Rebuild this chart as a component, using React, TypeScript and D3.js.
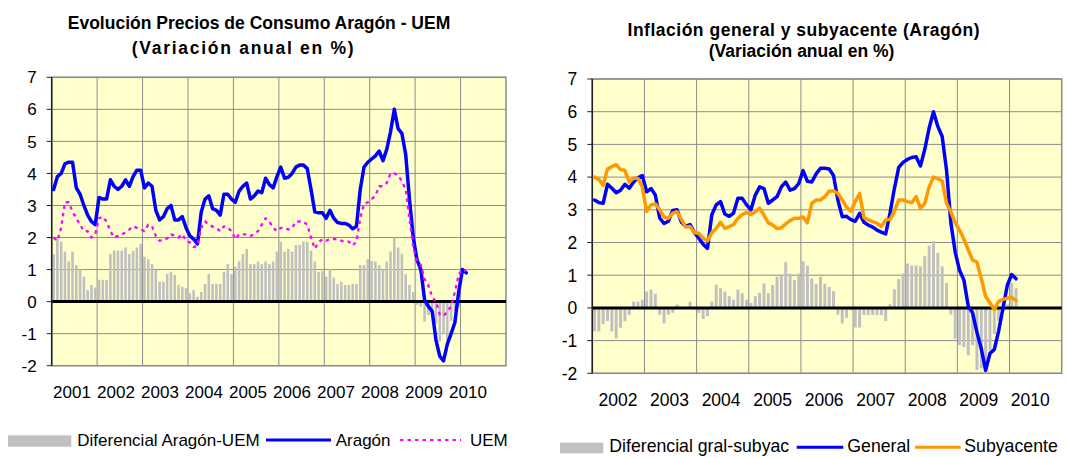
import React from 'react';
import * as d3 from 'd3';

// ---------- DATA ----------
const leftYears = ['2001', '2002', '2003', '2004', '2005', '2006', '2007', '2008', '2009', '2010'];
const rightYears = ['2002', '2003', '2004', '2005', '2006', '2007', '2008', '2009', '2010'];
const yTicks = [-2, -1, 0, 1, 2, 3, 4, 5, 6, 7];

// Monthly, Jan 2001 - Feb 2010
const aragon = [
  3.5, 3.9, 4.0, 4.3, 4.35, 4.35, 3.55, 3.35, 3.0, 2.7, 2.5, 2.4,
  3.25, 3.2, 3.2, 3.8, 3.6, 3.5, 3.6, 3.8, 3.6, 3.9, 4.1, 4.1,
  3.55, 3.7, 3.6, 2.85, 2.55, 2.65, 2.9, 3.0, 2.55, 2.55, 2.65, 2.3,
  2.05, 1.95, 1.8, 2.8, 3.2, 3.3, 2.9, 2.85, 2.7, 3.35, 3.35, 3.2,
  3.1, 3.45, 3.6, 3.7, 3.2, 3.3, 3.45, 3.4, 3.85, 3.65, 3.55, 3.9,
  4.2, 3.85, 3.88, 4.0, 4.2, 4.26, 4.26, 4.15, 3.5, 2.8, 2.77, 2.77,
  2.6, 2.85, 2.6, 2.47, 2.44, 2.44, 2.39, 2.27, 2.35, 3.5, 4.2, 4.35,
  4.45, 4.55, 4.7, 4.4, 4.75, 5.3, 6.0, 5.4, 5.25, 4.6, 3.2, 2.0,
  1.3, 1.0, 0.05, -0.15, -0.3, -1.2, -1.7, -1.85, -1.33, -1.0, -0.65, 0.3,
  1.0, 0.9,
];
const uem = [
  2.0, 1.9, 2.3, 3.1, 3.1, 2.8, 2.6, 2.4, 2.2, 2.2, 2.0, 2.1,
  2.6, 2.65, 2.5, 2.2, 2.0, 2.05, 2.1, 2.15, 2.25, 2.35, 2.3, 2.25,
  2.2, 2.4, 2.35, 2.05, 1.9, 1.92, 1.97, 2.1, 2.05, 2.0, 2.1, 1.9,
  1.85, 1.7, 1.75, 2.3, 2.5, 2.4, 2.34, 2.3, 2.2, 2.35, 2.3, 2.2,
  1.95, 2.1, 2.1, 2.1, 2.05, 2.1, 2.2, 2.4, 2.6, 2.5, 2.3, 2.2,
  2.3, 2.3, 2.25, 2.3, 2.5, 2.5, 2.5, 2.4, 2.0, 1.65, 1.85, 1.95,
  1.9, 1.95, 1.95, 1.95, 1.9, 1.87, 1.87, 1.75, 1.87, 2.6, 3.05, 3.1,
  3.2, 3.3, 3.6, 3.6, 3.7, 4.0, 4.0, 3.95, 3.75, 3.5, 2.6, 1.7,
  1.25, 1.15, 0.7, 0.5, 0.15, 0.0, -0.4, -0.45, -0.3, -0.15, 0.3, 0.85,
  1.0, 0.95,
];
const difAragonUem = [
  1.48, 1.97, 1.87, 1.56, 1.25, 1.56, 1.14, 1.0, 0.78, 0.36, 0.52, 0.44,
  0.68, 0.68, 0.68, 1.48, 1.59, 1.59, 1.59, 1.69, 1.48, 1.58, 1.69, 1.8,
  1.4, 1.32, 1.17, 0.98, 0.62, 0.62, 0.86, 0.93, 0.83, 0.52, 0.46, 0.42,
  0.26, 0.36, 0.15, 0.3, 0.55, 0.86, 0.55, 0.55, 0.55, 0.93, 1.17, 0.86,
  1.09, 1.25, 1.48, 1.64, 1.17, 1.17, 1.25, 1.17, 1.25, 1.17, 1.25, 1.56,
  1.87, 1.56, 1.64, 1.56, 1.77, 1.77, 1.87, 1.87, 1.59, 1.25, 0.93, 0.96,
  0.78, 1.01, 0.75, 0.55, 0.62, 0.52, 0.52, 0.55, 0.55, 1.14, 1.14, 1.32,
  1.27, 1.25, 1.14, 1.0, 1.25, 1.56, 2.0, 1.69, 1.5, 0.85, 0.52, 0.3,
  -0.1, -0.16, -0.62, -0.42, -0.37, -0.68, -1.25, -1.0, -1.25, -0.6, -0.3, -0.16,
  0.0, -0.05,
];

// Monthly, Jan 2002 - Feb 2010
const general = [
  3.3, 3.22, 3.2, 3.78, 3.66, 3.52, 3.6, 3.78, 3.66, 3.85, 3.98, 4.05,
  3.55, 3.65, 3.45, 2.75, 2.58, 2.65, 2.98, 3.0, 2.62, 2.5, 2.55, 2.3,
  2.13, 1.95, 1.82, 2.85, 3.15, 3.25, 2.87, 2.8, 2.9, 3.35, 3.35, 3.15,
  3.0, 3.45, 3.7, 3.65, 3.2, 3.3, 3.4, 3.7, 3.85, 3.6, 3.65, 3.8,
  4.2, 3.87, 3.85, 4.1, 4.27, 4.27, 4.25, 4.05, 3.3, 2.79, 2.8, 2.7,
  2.65, 2.89, 2.62, 2.53, 2.47, 2.38, 2.32, 2.26, 2.9, 3.65, 4.3, 4.45,
  4.54, 4.6, 4.62, 4.34, 4.85, 5.5, 6.0, 5.55, 5.24, 4.22, 2.6, 1.7,
  1.15, 0.85, 0.05, -0.15, -0.75, -1.25, -1.91, -1.39, -1.27, -0.7, 0.0, 0.7,
  1.02, 0.89,
];
const subyacente = [
  4.0, 3.93, 3.75, 4.25, 4.32, 4.38, 4.23, 4.2, 3.85, 3.97, 3.96, 3.7,
  2.95, 3.15, 3.18, 3.0, 2.78, 2.74, 2.9, 2.94, 2.7, 2.47, 2.49, 2.3,
  2.28, 2.13, 2.05, 2.3, 2.43, 2.62, 2.43, 2.49, 2.55, 2.74, 2.85, 2.92,
  2.86, 2.94, 3.05, 2.84, 2.6, 2.54, 2.42, 2.45, 2.57, 2.67, 2.74, 2.74,
  2.78, 2.6, 3.2, 3.3, 3.3, 3.4, 3.57, 3.58, 3.5, 3.3, 3.08, 2.96,
  3.25, 3.5, 2.76, 2.69, 2.64, 2.59, 2.49, 2.69, 2.7, 2.95, 3.3, 3.3,
  3.25, 3.22, 3.4, 3.05, 3.2, 3.7, 4.0, 3.95, 3.88, 3.2, 2.94, 2.6,
  2.38, 2.1, 1.77, 1.46, 1.4, 0.9, 0.35, 0.15, -0.05, 0.2, 0.26, 0.3,
  0.32, 0.22,
];
const difGralSubyac = [
  -0.72, -0.72, -0.5, -0.4, -0.72, -0.93, -0.61, -0.41, -0.21, 0.19, 0.19, 0.25,
  0.5, 0.56, 0.43, -0.21, -0.47, -0.21, -0.15, 0.1, 0.0, 0.0, 0.19, 0.0,
  -0.15, -0.34, -0.25, 0.19, 0.71, 0.6, 0.5, 0.36, 0.25, 0.56, 0.45, 0.25,
  0.15, 0.36, 0.46, 0.75, 0.45, 0.7, 0.95, 1.0, 1.4, 1.05, 0.85, 1.05,
  1.43, 1.29, 0.9, 0.73, 0.95, 0.74, 0.64, 0.51, -0.2, -0.48, -0.3, -0.07,
  -0.6, -0.6, -0.22, -0.22, -0.22, -0.22, -0.22, -0.4, 0.11, 0.57, 0.88, 1.05,
  1.36, 1.3, 1.3, 1.27, 1.58, 1.9, 2.04, 1.68, 1.27, 0.76, -0.2, -0.94,
  -1.14, -1.2, -1.45, -1.14, -1.9, -1.85, -2.0, -1.3, -0.8, -0.4, -0.1, 0.1,
  0.77, 0.6,
];

// ---------- STYLE ----------
const FONT = '"Liberation Sans", Arial, Helvetica, sans-serif';
const BG = '#FFFFCC';
const GRID = '#8c8c8c';
const BAR = '#C0C0C0';
const BLUE = '#0000FF';
const MAGENTA = '#FF00FF';
const ORANGE = '#FF9900';

type LineSpec = { values: number[]; color: string; width: number; dash?: string };

type PanelProps = {
  x0: number; x1: number; yTop: number; yBot: number;
  nCats: number;
  bars: number[];
  lines: LineSpec[];
  years: string[];
  labelRange: [number, number];
  labelY: number;
  fontSize: number;
  tickLabelGap: number;
};

function Panel(p: PanelProps) {
  const xb = d3.scaleBand<number>().domain(d3.range(p.nCats)).range([p.x0, p.x1]).paddingInner(0.32).paddingOuter(0.16);
  const xl = d3.scaleLinear().domain([0, p.nCats]).range([p.x0, p.x1]);
  const y = d3.scaleLinear().domain([-2, 7]).range([p.yBot, p.yTop]);
  const xLab = d3.scaleBand<string>().domain(p.years).range(p.labelRange);
  const boundaries = d3.range(12, p.nCats, 12);
  const cx = (i: number) => (xb(i) as number) + xb.bandwidth() / 2;

  return (
    <g>
      <rect x={p.x0} y={p.yTop} width={p.x1 - p.x0} height={p.yBot - p.yTop} fill={BG} />
      {yTicks.map((t) => (
        <line key={'h' + t} x1={p.x0} x2={p.x1} y1={y(t)} y2={y(t)} stroke={GRID} strokeWidth={1} />
      ))}
      {boundaries.map((b) => (
        <line key={'v' + b} x1={xl(b)} x2={xl(b)} y1={p.yTop} y2={p.yBot} stroke={GRID} strokeWidth={1} />
      ))}
      <rect x={p.x0} y={p.yTop} width={p.x1 - p.x0} height={p.yBot - p.yTop} fill="none" stroke={GRID} strokeWidth={1.5} />
      {p.bars.map((v, i) => (
        <rect key={'b' + i} x={xb(i)} width={xb.bandwidth()} y={Math.min(y(v), y(0))} height={Math.abs(y(v) - y(0))} fill={BAR} />
      ))}
      <line x1={p.x0} x2={p.x1} y1={y(0)} y2={y(0)} stroke="#000" strokeWidth={3} />
      <line x1={p.x0} x2={p.x0} y1={p.yTop} y2={p.yBot} stroke="#222" strokeWidth={1.5} />
      {yTicks.map((t) => (
        <g key={'t' + t}>
          <line x1={p.x0 - 5} x2={p.x0} y1={y(t)} y2={y(t)} stroke="#222" strokeWidth={1} />
          <text x={p.x0 - p.tickLabelGap} y={y(t)} dy="0.36em" textAnchor="end" fontSize={p.fontSize} fontFamily={FONT} fill="#000">
            {t}
          </text>
        </g>
      ))}
      {p.lines.map((l, k) => {
        const gen = d3.line<number>().x((_, i) => cx(i)).y((d) => y(d));
        return (
          <path key={'l' + k} d={gen(l.values) || ''} fill="none" stroke={l.color} strokeWidth={l.width}
            strokeDasharray={l.dash} strokeLinejoin="round" strokeLinecap={l.dash ? 'butt' : 'round'} />
        );
      })}
      {p.years.map((yr) => (
        <text key={yr} x={(xLab(yr) as number) + xLab.bandwidth() / 2} y={p.labelY} textAnchor="middle" fontSize={p.fontSize} fontFamily={FONT} fill="#000">
          {yr}
        </text>
      ))}
    </g>
  );
}

type TitleProps = { cx1: number; cx2: number; y1: number; y2: number; l1: string; l2: string; size: number; w1?: number; w2?: number };

function Title({ cx1, cx2, y1, y2, l1, l2, size, w1, w2 }: TitleProps) {
  return (
    <g fontFamily={FONT} fontWeight="bold" fontSize={size} fill="#000" textAnchor="middle">
      <text x={cx1} y={y1} textLength={w1} lengthAdjust={w1 ? 'spacing' : undefined}>{l1}</text>
      <text x={cx2} y={y2} textLength={w2} lengthAdjust={w2 ? 'spacing' : undefined}>{l2}</text>
    </g>
  );
}

export default function App() {
  return (
    <svg width={1070} height={458} style={{ position: 'absolute', left: 0, top: 0, background: '#fff' }}>
      <Title cx1={259} cx2={242.7} y1={29} y2={54} l1="Evolución Precios de Consumo Aragón - UEM" l2="(Variación anual en %)" size={17.5} w2={222} />
      <Title cx1={803.5} cx2={801.5} y1={36} y2={57} l1="Inflación general y subyacente (Aragón)" l2="(Variación anual en %)" size={17.5} w1={352} />

      <Panel x0={51.7} x1={506} yTop={77.3} yBot={365.7} nCats={120}
        bars={difAragonUem}
        lines={[
          { values: aragon, color: BLUE, width: 3.5 },
          { values: uem, color: MAGENTA, width: 2.3, dash: '3.5 4' },
        ]}
        years={leftYears} labelRange={[50, 490]} labelY={398} fontSize={17} tickLabelGap={15} />

      <Panel x0={592.3} x1={1061.7} yTop={79} yBot={373.3} nCats={108}
        bars={difGralSubyac}
        lines={[
          { values: general, color: BLUE, width: 3.5 },
          { values: subyacente, color: ORANGE, width: 3.5 },
        ]}
        years={rightYears} labelRange={[592.3, 1056]} labelY={406} fontSize={17.5} tickLabelGap={15} />

      {/* Legends */}
      <g fontFamily={FONT} fontSize={17} fill="#000">
        <rect x={8} y={435.3} width={63.3} height={11.4} fill={BAR} />
        <text x={77.3} y={446}>Diferencial Aragón-UEM</text>
        <line x1={266} x2={331} y1={440} y2={440} stroke={BLUE} strokeWidth={3} />
        <text x={335.7} y={446}>Aragón</text>
        <line x1={400} x2={461} y1={440} y2={440} stroke={MAGENTA} strokeWidth={2} strokeDasharray="3.5 4" />
        <text x={470} y={446}>UEM</text>
      </g>
      <g fontFamily={FONT} fontSize={17.7} fill="#000">
        <rect x={560} y={442.7} width={43.3} height={10.6} fill={BAR} />
        <text x={609.3} y={452}>Diferencial gral-subyac</text>
        <line x1={796.7} x2={843.3} y1={447.3} y2={447.3} stroke={BLUE} strokeWidth={3} />
        <text x={847.3} y={452}>General</text>
        <line x1={915} x2={960.7} y1={447.3} y2={447.3} stroke={ORANGE} strokeWidth={3} />
        <text x={964.3} y={452}>Subyacente</text>
      </g>
    </svg>
  );
}
